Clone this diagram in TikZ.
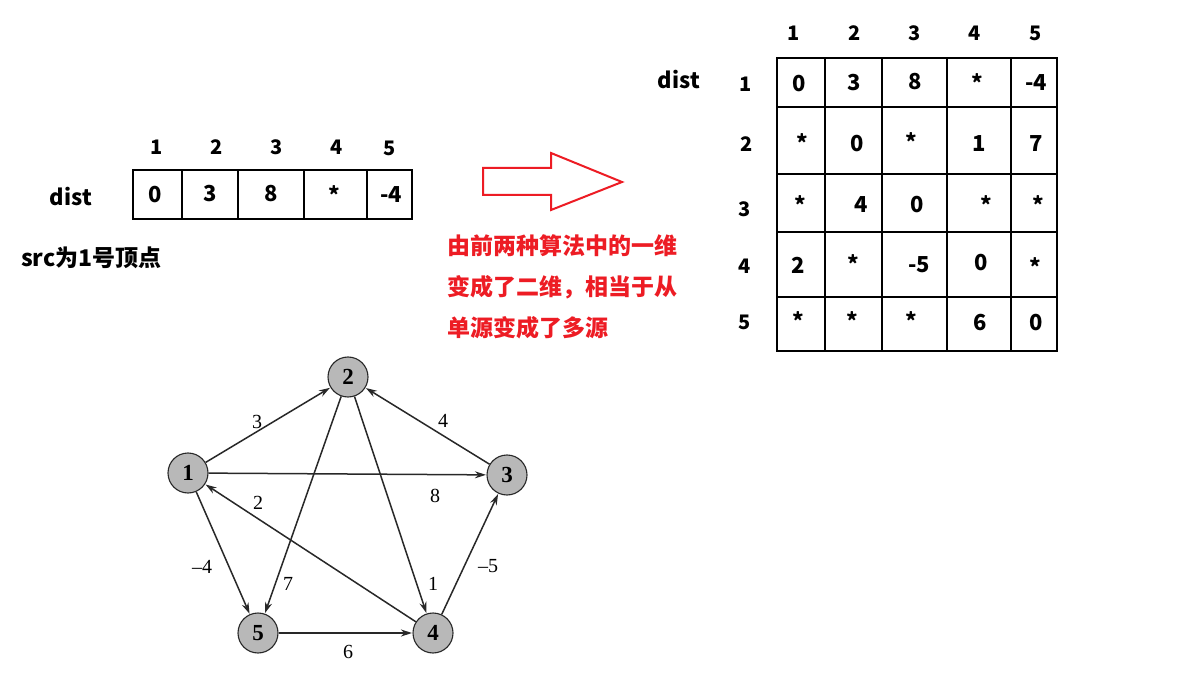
\documentclass[tikz,border=0pt]{standalone}
\usepackage{fontspec}
\setmainfont{Liberation Serif}
\newfontfamily\cjk{Noto Sans CJK SC}
\usetikzlibrary{arrows.meta}
\definecolor{redtxt}{RGB}{237,28,36}
\definecolor{nodegray}{RGB}{184,184,184}
\definecolor{edgegray}{RGB}{40,40,40}
\tikzset{
  tbl/.style={font=\cjk\bfseries\fontsize{22}{24}\selectfont, inner sep=0pt},
  hdr/.style={font=\cjk\bfseries\fontsize{20}{24}\selectfont, inner sep=0pt},
  grid/.style={line width=2.8pt, black},
  vtx/.style={circle, draw=edgegray, line width=1.1pt, fill=nodegray, minimum size=40pt, inner sep=0pt, font=\bfseries\fontsize{23}{24}\selectfont},
  edge/.style={draw=edgegray, line width=1.5pt, -{Stealth[length=11pt,width=7pt]}, shorten >=0.5pt},
  wt/.style={font=\fontsize{20}{22}\selectfont, inner sep=0pt},
  redtext/.style={font=\cjk\bfseries\fontsize{23}{24}\selectfont, text=redtxt, anchor=west, inner sep=0pt},
}
\begin{document}
\begin{tikzpicture}[x=1pt,y=-1pt]
\useasboundingbox[fill=white] (0,0) rectangle (1189,676);

% ---------- single-row dist table ----------
\draw[grid] (133,170) rectangle (412,219);
\foreach \x in {182,238,304,367} \draw[grid] (\x,170) -- (\x,219);
\node[hdr] (h1) at (157,147) {1};
\node[hdr] (h2) at (217,147) {2};
\node[hdr] (h3) at (277,147) {3};
\node[hdr] (h4) at (337,147) {4};
\node[hdr] (h5) at (390,148) {5};
\node[tbl] (d1) at (155,195) {0};
\node[tbl] (d2) at (210,194) {3};
\node[tbl] (d3) at (271,194) {8};
\node[tbl] (d4) at (334,195) {*};
\node[tbl] (d5) at (391,195) {-4};
\node[tbl] (distA) at (71,197) {dist};
\node[font=\cjk\bfseries\fontsize{23}{24}\selectfont, anchor=west, inner sep=0pt] (src) at (21,258) {src为1号顶点};

% ---------- hollow arrow ----------
\draw[redtxt, line width=2pt, line join=miter] (483,168) -- (551,168) -- (551,153) -- (622,182) -- (551,210) -- (551,195) -- (483,195) -- cycle;

% ---------- red text ----------
\node[redtext] (r1) at (447,246) {由前两种算法中的一维};
\node[redtext] (r2) at (447,287) {变成了二维，相当于从};
\node[redtext] (r3) at (447,328) {单源变成了多源};

% ---------- matrix ----------
\draw[grid] (777,58) rectangle (1057,351);
\foreach \x in {825,882,947,1011} \draw[grid] (\x,58) -- (\x,351);
\foreach \y in {107,174,232,297} \draw[grid] (777,\y) -- (1057,\y);
\node[hdr] (c1) at (794,33) {1};
\node[hdr] (c2) at (855,33) {2};
\node[hdr] (c3) at (915,33) {3};
\node[hdr] (c4) at (975,33) {4};
\node[hdr] (c5) at (1036,33) {5};
\node[hdr] (rw1) at (746,84) {1};
\node[hdr] (rw2) at (747,144) {2};
\node[hdr] (rw3) at (745,209) {3};
\node[hdr] (rw4) at (745,266) {4};
\node[hdr] (rw5) at (745,322) {5};
\node[tbl] (distB) at (679,80) {dist};
% row 1
\node[tbl] (m11) at (799,84) {0};
\node[tbl] (m12) at (854,83) {3};
\node[tbl] (m13) at (915,82) {8};
\node[tbl] (m14) at (977,83) {*};
\node[tbl] (m15) at (1036,83) {-4};
% row 2
\node[tbl] (m21) at (802,143) {*};
\node[tbl] (m22) at (857,144) {0};
\node[tbl] (m23) at (911,142) {*};
\node[tbl] (m24) at (979,144) {1};
\node[tbl] (m25) at (1036,144) {7};
% row 3
\node[tbl] (m31) at (800,205) {*};
\node[tbl] (m32) at (861,205) {4};
\node[tbl] (m33) at (917,205) {0};
\node[tbl] (m34) at (986,205) {*};
\node[tbl] (m35) at (1038,205) {*};
% row 4
\node[tbl] (m41) at (798,265) {2};
\node[tbl] (m42) at (853,264) {*};
\node[tbl] (m43) at (919,265) {-5};
\node[tbl] (m44) at (981,263) {0};
\node[tbl] (m45) at (1035,267) {*};
% row 5
\node[tbl] (m51) at (798,321) {*};
\node[tbl] (m52) at (852,321) {*};
\node[tbl] (m53) at (911,321) {*};
\node[tbl] (m54) at (980,323) {6};
\node[tbl] (m55) at (1036,323) {0};

% ---------- graph ----------
\node[vtx] (n1) at (188,473) {1};
\node[vtx] (n2) at (348,377) {2};
\node[vtx] (n3) at (507,475) {3};
\node[vtx] (n4) at (433,633) {4};
\node[vtx] (n5) at (258,633) {5};

\draw[edge] (n1) -- (n2);
\draw[edge] (n1) -- (n3);
\draw[edge] (n3) -- (n2);
\draw[edge] (n2) -- (n5);
\draw[edge] (n2) -- (n4);
\draw[edge] (n4) -- (n1);
\draw[edge] (n1) -- (n5);
\draw[edge] (n4) -- (n3);
\draw[edge] (n5) -- (n4);

\node[wt] (w12) at (257,422) {3};
\node[wt] (w13) at (435,496) {8};
\node[wt] (w32) at (443,421) {4};
\node[wt] (w25) at (288,584) {7};
\node[wt] (w24) at (433,584) {1};
\node[wt] (w41) at (258,503) {2};
\node[wt] (w15) at (202,567) {\textendash4};
\node[wt] (w43) at (488,566) {\textendash5};
\node[wt] (w54) at (348,652) {6};
\end{tikzpicture}
\end{document}
